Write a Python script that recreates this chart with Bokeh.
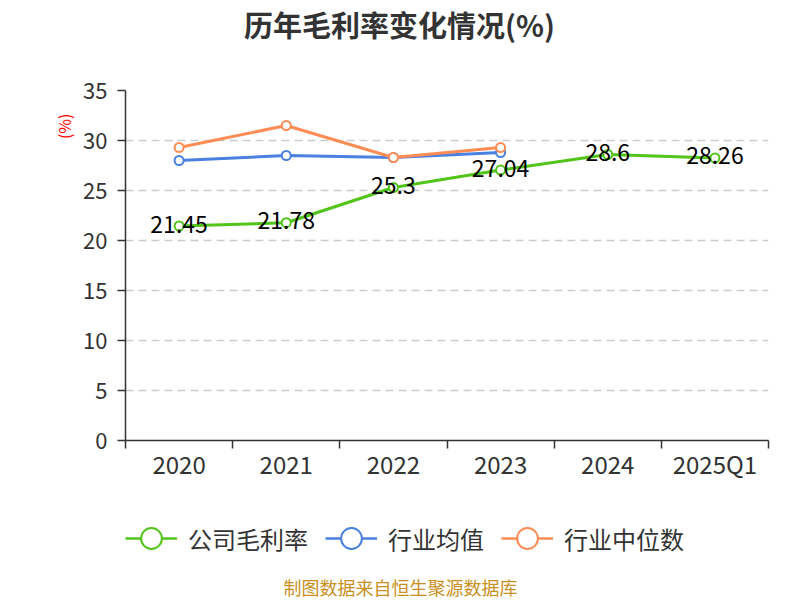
from bokeh.plotting import figure
from bokeh.layouts import column
from bokeh.models import (ColumnDataSource, FixedTicker, Legend, LegendItem, Label, Title, Range1d)
from bokeh.core.properties import value
from bokeh.embed import file_html
from bokeh.resources import INLINE

categories = ["2020", "2021", "2022", "2023", "2024", "2025Q1"]
company = [21.45, 21.78, 25.3, 27.04, 28.6, 28.26]
industry_avg = [28.0, 28.5, 28.3, 28.8]
industry_median = [29.3, 31.5, 28.3, 29.3]
y_ticks = [0, 5, 10, 15, 20, 25, 30, 35]
series_names = ["公司毛利率", "行业均值", "行业中位数"]

FONT = "Noto Sans CJK SC"
GREEN = "#52c41a"
BLUE = "#4a80e0"
ORANGE = "#ff8c55"
COLORS = [GREEN, BLUE, ORANGE]

xpos = [i + 0.5 for i in range(len(categories))]

LEFT, FRAME_W, RIGHT = 125, 643, 32


def blank(h):
    # frames in a column are aligned with the main chart's frame; use page pixels as data units
    f = figure(width=800, height=h, output_backend="svg", toolbar_location=None,
               x_range=Range1d(LEFT, LEFT + FRAME_W), y_range=Range1d(0, h),
               x_axis_type=None, y_axis_type=None, min_border=0,
               min_border_left=LEFT, min_border_right=RIGHT, frame_width=FRAME_W, frame_height=h)
    f.outline_line_color = None
    f.xgrid.visible = False
    f.ygrid.visible = False
    return f


# ---- title strip
tf = blank(50)
tf.add_layout(Label(x=399, y=27, text="历年毛利率变化情况(%)", text_align="center", text_baseline="middle",
                    text_font=FONT, text_font_size="29px", text_font_style="bold", text_color="#333333"))

# ---- main chart
p = figure(frame_width=FRAME_W, frame_height=350, output_backend="svg", toolbar_location=None,
           x_range=Range1d(0, len(categories)), y_range=Range1d(0, 35),
           min_border_left=LEFT, min_border_right=RIGHT, min_border_top=40, min_border_bottom=50)
p.outline_line_color = None

xa = p.xaxis[0]
xa.ticker = FixedTicker(ticks=xpos, minor_ticks=list(range(len(categories) + 1)))
xa.major_label_overrides = {x: c for x, c in zip(xpos, categories)}
xa.major_tick_out = 0
xa.major_tick_in = 0
xa.minor_tick_out = 8
xa.minor_tick_in = 0
xa.minor_tick_line_color = "#333333"
xa.minor_tick_line_width = 1.5
xa.axis_line_color = "#333333"
xa.axis_line_width = 1.5
xa.major_label_text_font = FONT
xa.major_label_text_font_size = "24px"
xa.major_label_text_color = "#333333"
xa.major_label_standoff = -3

ya = p.yaxis[0]
ya.ticker = FixedTicker(ticks=y_ticks, minor_ticks=[])
ya.major_tick_out = 8
ya.major_tick_in = 0
ya.major_tick_line_color = "#333333"
ya.major_tick_line_width = 1.5
ya.axis_line_color = "#333333"
ya.axis_line_width = 1.5
ya.major_label_text_font = FONT
ya.major_label_text_font_size = "22px"
ya.major_label_text_color = "#333333"
ya.major_label_standoff = 10

p.add_layout(Title(text="(%)", align="right", offset=23, text_font=FONT, text_font_size="16px",
                   text_font_style="normal", text_color="red"), "left")

p.xgrid.visible = False
p.ygrid.grid_line_color = "#cccccc"
p.ygrid.grid_line_dash = "8 5"
p.ygrid.grid_line_width = 1.5

src_c = ColumnDataSource(dict(x=xpos, y=company, t=[str(v) for v in company]))
src_a = ColumnDataSource(dict(x=xpos[:len(industry_avg)], y=industry_avg))
src_m = ColumnDataSource(dict(x=xpos[:len(industry_median)], y=industry_median))

for src, col in zip([src_c, src_a, src_m], COLORS):
    p.line("x", "y", source=src, line_color=col, line_width=3)
    p.scatter("x", "y", source=src, size=9, fill_color="white", line_color=col, line_width=2)

p.text("x", "y", text="t", source=src_c, text_align="center", text_baseline="middle",
       text_font=value(FONT), text_font_size="23px", text_color="black", y_offset=-2)

# ---- legend + footer strip
lf = blank(110)
items = []
for name, col in zip(series_names, COLORS):
    dummy = ColumnDataSource(dict(x=[-100], y=[-100]))
    l = lf.line("x", "y", source=dummy, line_color=col, line_width=2.5)
    s = lf.scatter("x", "y", source=dummy, size=9, fill_color="white", line_color=col, line_width=2)
    items.append(LegendItem(label=name, renderers=[l, s]))
legend = Legend(items=items, orientation="horizontal", location=(0, 34),
                glyph_width=52, glyph_height=56, label_standoff=11, spacing=17,
                label_text_font=FONT, label_text_font_size="24px", label_text_color="#333333",
                label_height=56, label_text_baseline="middle",
                background_fill_alpha=0, border_line_alpha=0, padding=0, margin=0)
lf.add_layout(legend, "center")
lf.add_layout(Label(x=400, y=14, text="制图数据来自恒生聚源数据库", text_align="center", text_baseline="middle",
                    text_font=FONT, text_font_size="18px", text_color="#c8901e"))

layout = column(tf, p, lf, spacing=0)
open("out.html", "w").write(file_html(layout, INLINE))
